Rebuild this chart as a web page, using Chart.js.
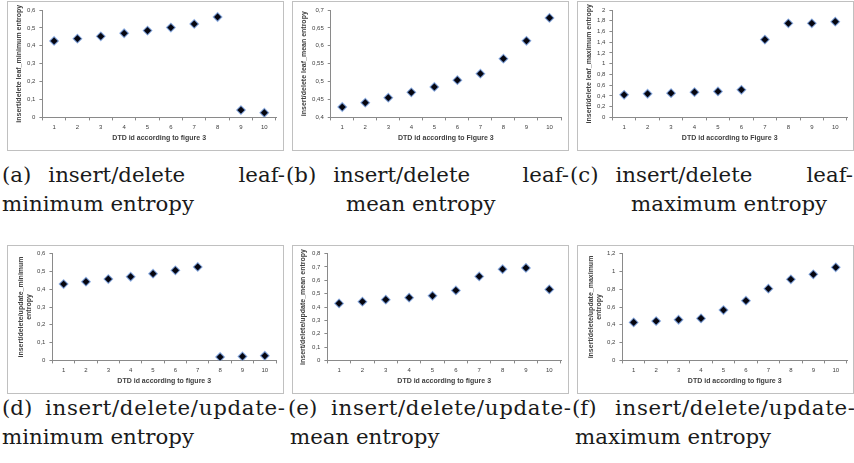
<!DOCTYPE html>
<html>
<head>
<meta charset="utf-8">
<script src="https://cdn.jsdelivr.net/npm/chart.js@4/dist/chart.umd.min.js"></script>
<style>
  body { margin: 0; background: #fff; width: 854px; height: 463px; position: relative; overflow: hidden; }
  .frame { position: absolute; border: 1px solid #c0c0c0; box-sizing: border-box; background: #fff; }
  .frame canvas { position: absolute; left: 0; top: 0; }
  .cap { position: absolute; font-family: "DejaVu Serif", serif; font-size: 21.3px;
         color: #1a1a1a; white-space: nowrap; line-height: 1; }
  .line1 { display: flex; width: 283px; }
  .line1 .w1 { margin-right: 17px; }
  .line1 .last { margin-left: auto; }
  .line1 .long { letter-spacing: 0.7px; margin-right: -0.7px; }
</style>
</head>
<body>
<script>
// x categories (DTD id)
var categories = ['1', '2', '3', '4', '5', '6', '7', '8', '9', '10'];

// series
var leafMin  = [0.427, 0.440, 0.453, 0.470, 0.485, 0.502, 0.522, 0.561, 0.041, 0.026];
var leafMean = [0.429, 0.441, 0.455, 0.470, 0.485, 0.504, 0.522, 0.564, 0.614, 0.678];
var leafMax  = [0.421, 0.440, 0.452, 0.470, 0.483, 0.514, 1.449, 1.752, 1.752, 1.783];
var updMin   = [0.429, 0.442, 0.457, 0.470, 0.487, 0.506, 0.525, 0.019, 0.022, 0.026];
var updMean  = [0.427, 0.440, 0.455, 0.470, 0.484, 0.524, 0.629, 0.683, 0.693, 0.532];
var updMax   = [0.427, 0.442, 0.457, 0.472, 0.566, 0.671, 0.806, 0.911, 0.967, 1.046];

// y tick values
var ticksMin      = [0, 0.1, 0.2, 0.3, 0.4, 0.5, 0.6];
var ticksLeafMean = [0.4, 0.45, 0.5, 0.55, 0.6, 0.65, 0.7];
var ticksLeafMax  = [0, 0.2, 0.4, 0.6, 0.8, 1, 1.2, 1.4, 1.6, 1.8, 2];
var ticksUpdMean  = [0, 0.1, 0.2, 0.3, 0.4, 0.5, 0.6, 0.7, 0.8];
var ticksUpdMax   = [0, 0.2, 0.4, 0.6, 0.8, 1, 1.2];

// axis titles and captions
var yTitles = [
  'insert/delete leaf_minimum entropy',
  'insert/delete leaf_mean entropy',
  'insert/delete leaf_maximum entropy',
  ['insert/delete/update_minimum', 'entropy'],
  'insert/delete/update_mean entropy',
  ['insert/delete/update_maximum', 'entropy']
];
var xTitles = [
  'DTD id according to figure 3',
  'DTD id according to Figure 3',
  'DTD id according to Figure 3',
  'DTD id according to figure 3',
  'DTD id according to figure 3',
  'DTD id according to figure 3'
];
var captionFirst = [
  ['(a)', 'insert/delete', 'leaf-'], ['(b)', 'insert/delete', 'leaf-'], ['(c)', 'insert/delete', 'leaf-'],
  ['(d)', 'insert/delete/update-'], ['(e)', 'insert/delete/update-'], ['(f)', 'insert/delete/update-']
];
var captionSecond = [
  'minimum entropy', 'mean entropy', 'maximum entropy',
  'minimum entropy', 'mean entropy', 'maximum entropy'
];

var axisColor = '#8a8a8a';
var textColor = '#404040';

function makePanel(i, values, ticks, box, pad, titlePad) {
  var div = document.createElement('div');
  div.className = 'frame';
  div.style.left = box[0] + 'px';
  div.style.top = box[1] + 'px';
  div.style.width = box[2] + 'px';
  div.style.height = box[3] + 'px';
  var cv = document.createElement('canvas');
  cv.width = box[2] - 2;
  cv.height = box[3] - 2;
  div.appendChild(cv);
  document.body.appendChild(div);

  new Chart(cv, {
    type: 'line',
    data: {
      labels: categories,
      datasets: [{
        data: values,
        showLine: false,
        pointStyle: 'rectRot',
        pointRadius: 4.3,
        backgroundColor: '#05050f',
        borderColor: 'rgba(120,160,225,0.75)',
        borderWidth: 1.2
      }]
    },
    options: {
      responsive: false,
      animation: false,
      devicePixelRatio: 1,
      layout: { padding: pad },
      plugins: { legend: { display: false }, tooltip: { enabled: false } },
      scales: {
        x: {
          offset: true,
          grid: { offset: true, drawOnChartArea: false, drawTicks: true, tickLength: 3, color: axisColor },
          border: { color: axisColor },
          ticks: { color: textColor, font: { family: 'Liberation Sans', size: 6 }, padding: 3, maxRotation: 0 },
          title: { display: true, text: xTitles[i], color: textColor, padding: { top: 0, bottom: 0 },
                   font: { family: 'Liberation Sans', size: 7, weight: 'bold' } }
        },
        y: {
          min: ticks[0],
          max: ticks[ticks.length - 1],
          afterBuildTicks: function (scale) {
            scale.ticks = ticks.map(function (v) { return { value: v }; });
          },
          grid: { drawOnChartArea: false, drawTicks: true, tickLength: 3, color: axisColor },
          border: { color: axisColor },
          ticks: {
            color: textColor, font: { family: 'Liberation Sans', size: 6 }, padding: 4,
            callback: function (v) { return String(Math.round(v * 100) / 100).replace('.', ','); }
          },
          title: { display: true, text: yTitles[i], color: textColor, padding: { top: 0, bottom: titlePad },
                   font: { family: 'Liberation Sans', size: 7, weight: 'bold', lineHeight: 1.15 } }
        }
      }
    }
  });
}

function makeCaption(i, x1, x2, top) {
  var l1 = document.createElement('div');
  l1.className = 'cap line1';
  l1.style.left = x1 + 'px';
  l1.style.top = top + 'px';
  var words = captionFirst[i];
  words.forEach(function (w, k) {
    var s = document.createElement('span');
    s.textContent = w;
    if (k === 0 && words.length > 2) s.className = 'w1';
    if (k === words.length - 1) s.className = words.length > 2 ? 'last' : 'last long';
    l1.appendChild(s);
  });
  document.body.appendChild(l1);
  var l2 = document.createElement('div');
  l2.className = 'cap';
  l2.style.left = x2 + 'px';
  l2.style.top = (top + 29) + 'px';
  l2.textContent = captionSecond[i];
  document.body.appendChild(l2);
}

var seriesList = [leafMin, leafMean, leafMax, updMin, updMean, updMax];
var tickList = [ticksMin, ticksLeafMean, ticksLeafMax, ticksMin, ticksUpdMean, ticksUpdMax];
var boxes = [
  [7, 1, 277, 150], [292, 1, 277, 150], [577, 1, 277, 150],
  [7, 245, 277, 149], [292, 245, 277, 149], [577, 245, 277, 149]
];
var pads = [
  { left: 7, right: 7, top: 8, bottom: 8 },
  { left: 7, right: 7, top: 8, bottom: 8 },
  { left: 7, right: 6, top: 8, bottom: 8 },
  { left: 9, right: 7, top: 6, bottom: 8 },
  { left: 6, right: 7, top: 6, bottom: 8 },
  { left: 9, right: 6, top: 6, bottom: 8 }
];
var titlePads = [0, 0, 0, 0, 1, 0];
for (var i = 0; i < 6; i++) {
  makePanel(i, seriesList[i], tickList[i], boxes[i], pads[i], titlePads[i]);
}

makeCaption(0, 2, 2, 164);
makeCaption(1, 286, 346, 164);
makeCaption(2, 570, 631, 164);
makeCaption(3, 2, 2, 397);
makeCaption(4, 288, 290, 397);
makeCaption(5, 572, 575, 397);
</script>
</body>
</html>
